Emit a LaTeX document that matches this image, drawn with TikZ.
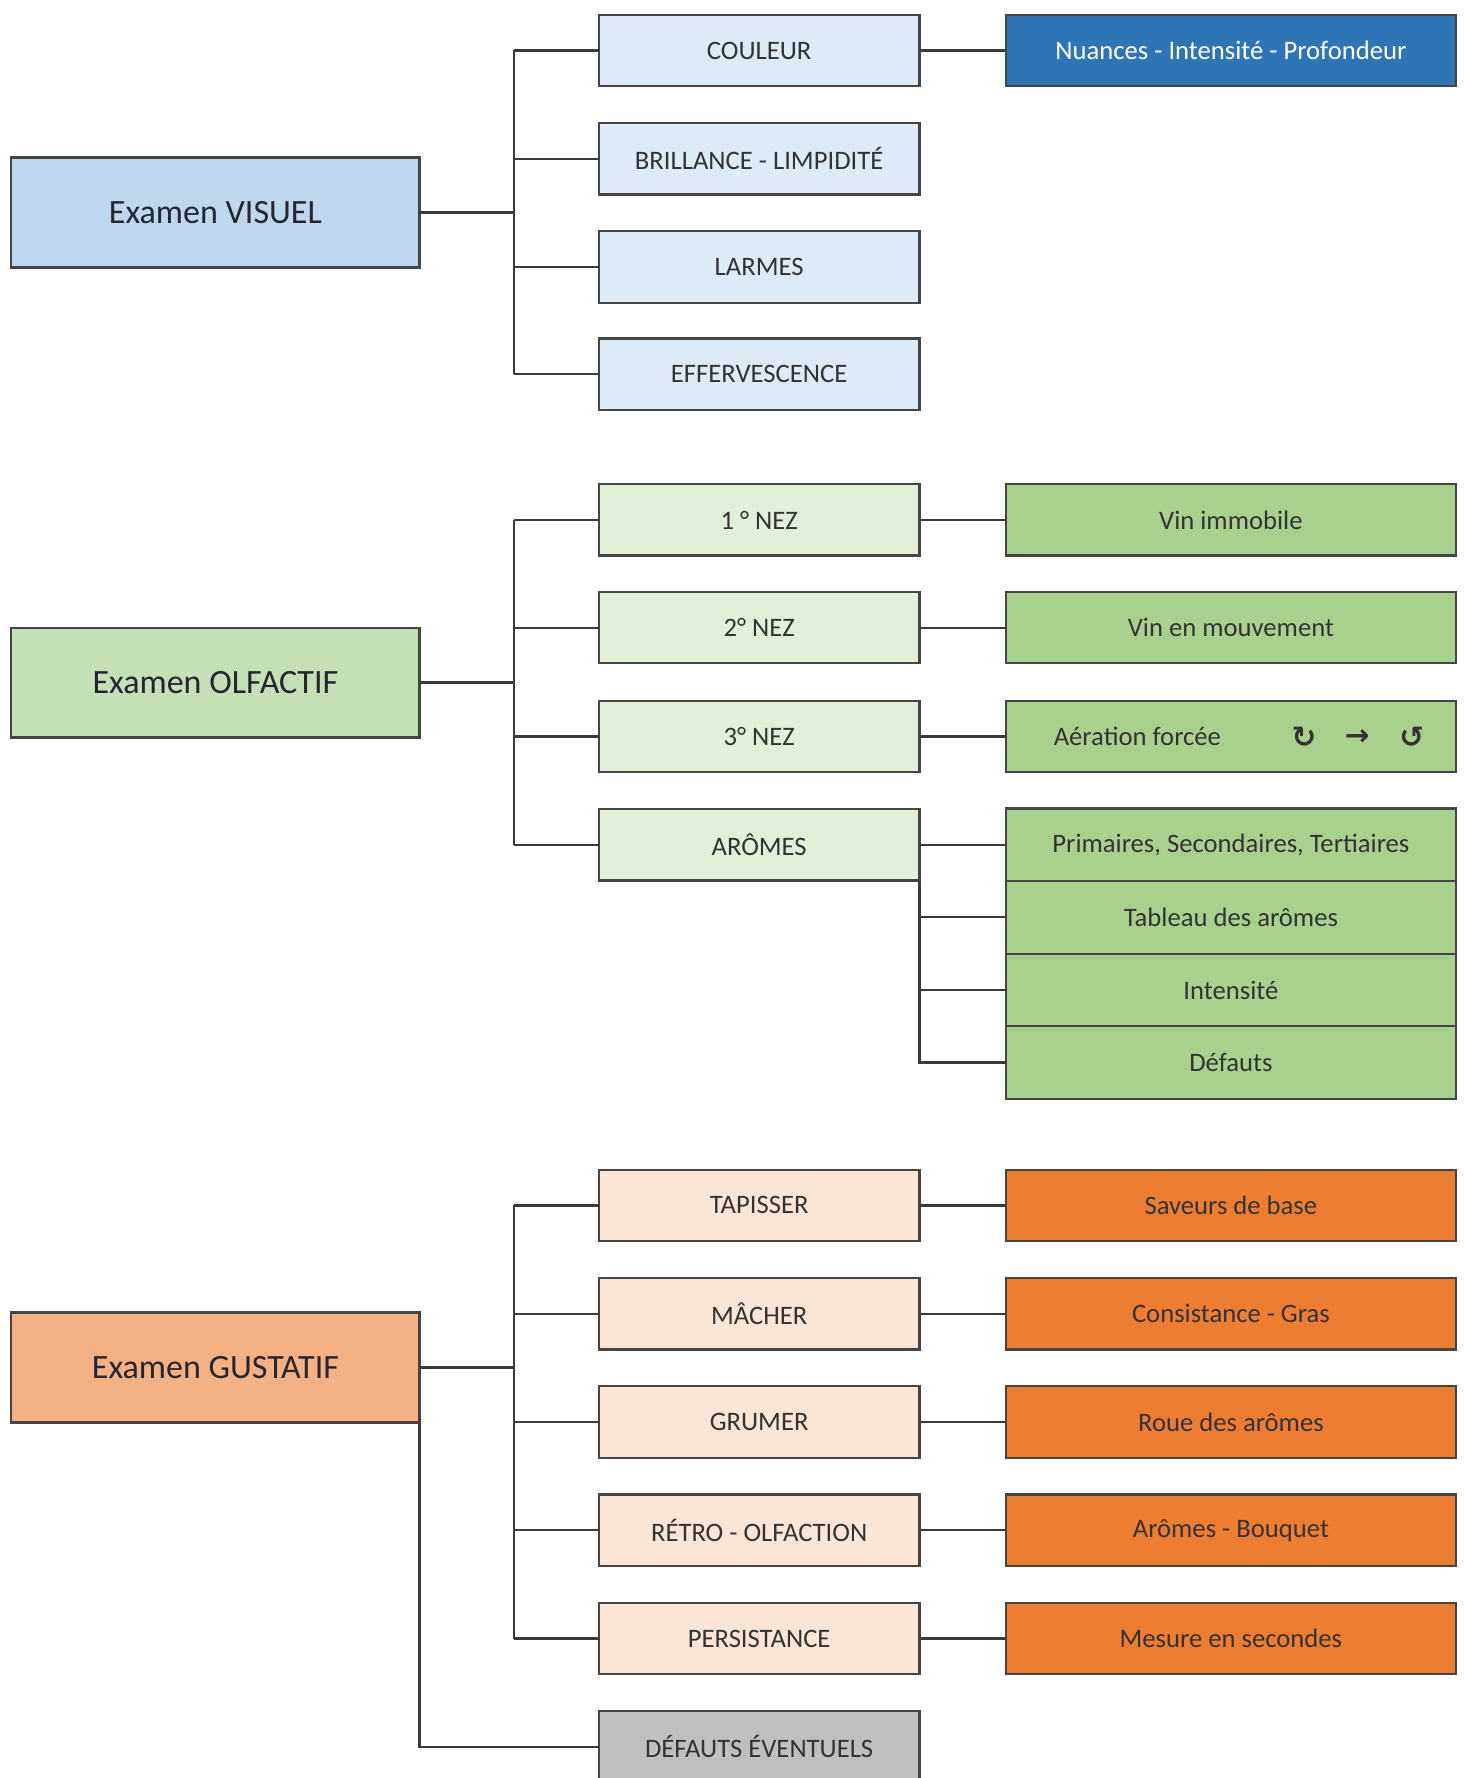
\documentclass[tikz,border=0pt]{standalone}
\usepackage{fontspec}
\setmainfont{Carlito}
\newfontfamily\symfont{DejaVu Sans}
\definecolor{bordercol}{HTML}{454545}
\definecolor{linecol}{HTML}{3A3A3A}
\definecolor{textcol}{HTML}{333333}
\definecolor{maintext}{HTML}{262630}
\definecolor{visA}{HTML}{BDD7EE}
\definecolor{visB}{HTML}{DEEBF7}
\definecolor{visC}{HTML}{2E75B6}
\definecolor{olfA}{HTML}{C5E0B4}
\definecolor{olfB}{HTML}{E2F0D9}
\definecolor{olfC}{HTML}{A9D18E}
\definecolor{gusA}{HTML}{F4B183}
\definecolor{gusB}{HTML}{FBE5D6}
\definecolor{gusC}{HTML}{ED7D31}
\definecolor{grayB}{HTML}{BFBFBF}
\tikzset{
  boxbase/.style={draw=bordercol, line width=2pt, inner sep=0pt, outer sep=0pt, align=center},
  mainbox/.style={boxbase, minimum width=360pt, minimum height=97pt, text=maintext, font=\fontsize{30}{34}\selectfont},
  subbox/.style={boxbase, minimum width=283pt, minimum height=63pt, text=textcol, font=\fontsize{23.5}{28}\selectfont},
  leafbox/.style={boxbase, minimum width=397pt, minimum height=63pt, text=textcol, font=\fontsize{23.5}{28}\selectfont},
  conn/.style={draw=linecol, line width=2pt},
  plain/.style={inner sep=0pt, outer sep=0pt, text=textcol, font=\fontsize{23.5}{28}\selectfont},
  icon/.style={inner sep=0pt, outer sep=0pt, text=textcol, font=\symfont\bfseries\fontsize{26}{30}\selectfont}
}
\begin{document}
\begin{tikzpicture}[x=1pt, y=-1pt]
\useasboundingbox (0,0) rectangle (1291,1568);
% ---------- VISUEL ----------
\node[mainbox, fill=visA] (vis) at (190,187.5) {Examen VISUEL};
\node[subbox, fill=visB] (v1) at (669.5,44.5) {COULEUR};
\node[subbox, fill=visB] (v2) at (669.5,140) {BRILLANCE - LIMPIDITÉ};
\node[subbox, fill=visB] (v3) at (669.5,235.5) {LARMES};
\node[subbox, fill=visB] (v4) at (669.5,330) {EFFERVESCENCE};
\node[leafbox, fill=visC, text=white] (v1c) at (1085.5,44.5) {Nuances - Intensité - Profondeur};
\coordinate (vj) at (453,187.5);
\draw[conn] (vis.east) -- (vj);
\draw[conn] (vj |- v1.west) -- (vj |- v4.west);
\foreach \n in {v1,v2,v3,v4} { \draw[conn] (vj |- \n.west) -- (\n.west); }
\draw[conn] (v1.east) -- (v1c.west);
% ---------- OLFACTIF ----------
\node[mainbox, fill=olfA] (olf) at (190,602) {Examen OLFACTIF};
\node[subbox, fill=olfB] (o1) at (669.5,458.5) {1 ° NEZ};
\node[subbox, fill=olfB] (o2) at (669.5,553.5) {2° NEZ};
\node[subbox, fill=olfB] (o3) at (669.5,649.5) {3° NEZ};
\node[subbox, fill=olfB] (o4) at (669.5,745) {ARÔMES};
\node[leafbox, fill=olfC] (o1c) at (1085.5,458.5) {Vin immobile};
\node[leafbox, fill=olfC] (o2c) at (1085.5,553.5) {Vin en mouvement};
\node[leafbox, fill=olfC] (o3c) at (1085.5,649.5) {};
\node[plain] (o3t) at (1003,649) {Aération forcée};
\node[icon] (o3i1) at (1150,650) {↻};
\node[icon] (o3i2) at (1197,650) {→};
\node[icon] (o3i3) at (1245,650) {↺};
\node[leafbox, fill=olfC, minimum height=64pt] (p1) at (1085.5,745) {Primaires, Secondaires, Tertiaires};
\node[leafbox, fill=olfC, minimum height=64pt] (p2) at (1085.5,809) {Tableau des arômes};
\node[leafbox, fill=olfC, minimum height=64pt] (p3) at (1085.5,873) {Intensité};
\node[leafbox, fill=olfC, minimum height=64pt] (p4) at (1085.5,937) {Défauts};
\coordinate (oj) at (453,602);
\draw[conn] (olf.east) -- (oj);
\draw[conn] (oj |- o1.west) -- (oj |- o4.west);
\foreach \n in {o1,o2,o3,o4} { \draw[conn] (oj |- \n.west) -- (\n.west); }
\draw[conn] (o1.east) -- (o1c.west);
\draw[conn] (o2.east) -- (o2c.west);
\draw[conn] (o3.east) -- (o3c.west);
\draw[conn] (o4.east) -- (p1.west);
\draw[conn] (o4.south east) |- (p4.west);
\draw[conn] (p2.west -| o4.east) -- (p2.west);
\draw[conn] (p3.west -| o4.east) -- (p3.west);
% ---------- GUSTATIF ----------
\node[mainbox, fill=gusA] (gus) at (190,1206) {Examen GUSTATIF};
\node[subbox, fill=gusB] (g1) at (669.5,1063) {TAPISSER};
\node[subbox, fill=gusB] (g2) at (669.5,1158.5) {MÂCHER};
\node[subbox, fill=gusB] (g3) at (669.5,1254) {GRUMER};
\node[subbox, fill=gusB] (g4) at (669.5,1349.5) {RÉTRO - OLFACTION};
\node[subbox, fill=gusB] (g5) at (669.5,1445) {PERSISTANCE};
\node[subbox, fill=grayB] (g6) at (669.5,1540.5) {DÉFAUTS ÉVENTUELS};
\node[leafbox, fill=gusC] (g1c) at (1085.5,1063) {Saveurs de base};
\node[leafbox, fill=gusC] (g2c) at (1085.5,1158.5) {Consistance - Gras};
\node[leafbox, fill=gusC] (g3c) at (1085.5,1254) {Roue des arômes};
\node[leafbox, fill=gusC] (g4c) at (1085.5,1349.5) {Arômes - Bouquet};
\node[leafbox, fill=gusC] (g5c) at (1085.5,1445) {Mesure en secondes};
\coordinate (gj) at (453,1206);
\draw[conn] (gus.east) -- (gj);
\draw[conn] (gj |- g1.west) -- (gj |- g5.west);
\foreach \n in {g1,g2,g3,g4,g5} { \draw[conn] (gj |- \n.west) -- (\n.west); }
\foreach \n in {g1,g2,g3,g4,g5} { \draw[conn] (\n.east) -- (\n c.west); }
\draw[conn] (gus.south east) |- (g6.west);
\end{tikzpicture}
\end{document}
